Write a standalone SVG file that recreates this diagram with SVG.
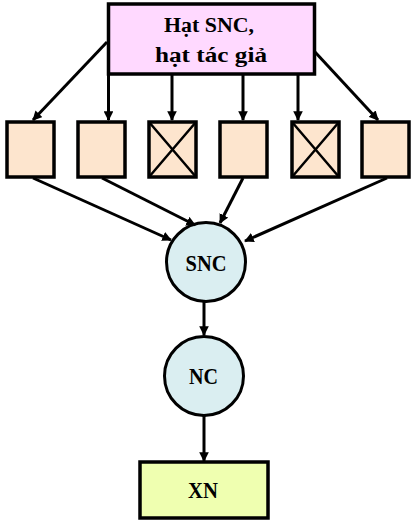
<svg xmlns="http://www.w3.org/2000/svg" width="419" height="524" viewBox="0 0 419 524">
<style>
.bx{stroke:#000;stroke-width:3.5}
.sm{fill:#FDE5CE}
.cir{fill:#DAEEF1;stroke:#000;stroke-width:3}
.t{font-family:"Liberation Serif",serif;font-weight:bold;font-size:22px;text-anchor:middle;fill:#000}
.c{font-size:24px}
.e{stroke:#000;stroke-width:3;fill:none;marker-end:url(#ah)}
</style>
<defs>
<marker id="ah" viewBox="0 0 10 10" refX="9" refY="5" markerWidth="3.2" markerHeight="3.2" orient="auto" markerUnits="strokeWidth">
<path d="M0,0 L10,5 L0,10 z" fill="#000"/>
</marker>
</defs>
<rect width="419" height="524" fill="#fff"/>
<g id="top">
<rect class="bx" x="108.5" y="4" width="206" height="70" fill="#FFD9FF"/>
<text class="t" x="209" y="32" textLength="90" lengthAdjust="spacingAndGlyphs">Hạt SNC,</text>
<text class="t" x="211" y="62" textLength="112" lengthAdjust="spacingAndGlyphs">hạt tác giả</text>
</g>
<g id="b1"><rect class="bx sm" x="7" y="122" width="47" height="55"/></g>
<g id="b2"><rect class="bx sm" x="78" y="122" width="47" height="55"/></g>
<g id="b3"><rect class="bx sm" x="149" y="122" width="47" height="55"/><path d="M149,122 L196,177 M196,122 L149,177" stroke="#000" stroke-width="2.5"/></g>
<g id="b4"><rect class="bx sm" x="220" y="122" width="47" height="55"/></g>
<g id="b5"><rect class="bx sm" x="292" y="122" width="47" height="55"/><path d="M292,122 L339,177 M339,122 L292,177" stroke="#000" stroke-width="2.5"/></g>
<g id="b6"><rect class="bx sm" x="362" y="122" width="47" height="55"/></g>
<g id="snc"><circle class="cir" cx="206" cy="262" r="39.5"/><text class="t c" x="206" y="271" textLength="41" lengthAdjust="spacingAndGlyphs">SNC</text></g>
<g id="nc"><circle class="cir" cx="204" cy="376" r="39.5"/><text class="t c" x="203.5" y="384" textLength="29" lengthAdjust="spacingAndGlyphs">NC</text></g>
<g id="xn"><rect class="bx" x="140" y="462" width="128" height="56" fill="#EFFFB0"/><text class="t c" x="203" y="498" textLength="30" lengthAdjust="spacingAndGlyphs">XN</text></g>
<g id="connectors">
<path class="e" d="M107,42 L33,120"/>
<path class="e" d="M108.5,74 L108.5,120"/>
<path class="e" d="M172,74 L172,120"/>
<path class="e" d="M243,74 L243,120"/>
<path class="e" d="M298,74 L298,120"/>
<path class="e" d="M315,52 L378,120"/>
<path class="e" d="M33,178 L171,240"/>
<path class="e" d="M102,178 L195,225"/>
<path class="e" d="M243,178 L220,223"/>
<path class="e" d="M387,178 L245,241"/>
<path class="e" d="M204,302 L204,335"/>
<path class="e" d="M204,416 L204,461"/>
</g>
</svg>
